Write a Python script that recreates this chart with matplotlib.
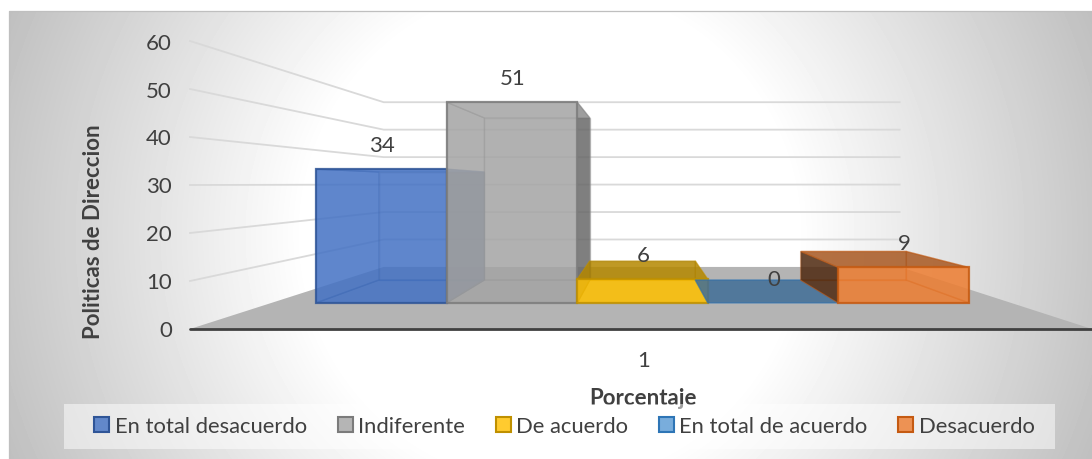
import numpy as np
import matplotlib
matplotlib.use('Agg')
import matplotlib.pyplot as plt
from matplotlib.patches import Patch, Polygon, Rectangle

# Datos
categorias = ['En total desacuerdo', 'Indiferente', 'De acuerdo', 'En total de acuerdo', 'Desacuerdo']
valores = [34, 51, 6, 0, 9]
colores = ['#4472C4', '#A5A5A5', '#FFC000', '#5B9BD5', '#ED7D31']
bordes = ['#2F5597', '#7B7B7B', '#BF9000', '#2E75B6', '#C55A11']
ticks_y = [0, 10, 20, 30, 40, 50, 60]

plt.rcParams['font.family'] = ['Lato', 'DejaVu Sans']
GRIS_TEXTO = '#404040'

W, H = 1092, 460
fig = plt.figure(figsize=(W / 100, H / 100), dpi=100)
ax = fig.add_axes([0, 0, 1, 1])
ax.axis('off')

# Fondo con degradado radial, dentro del marco del grafico
MARCO_X, MARCO_Y = 9, 12
xx, yy = np.meshgrid(np.arange(W) + 0.5, np.arange(H) + 0.5)
d = np.sqrt((xx - 550) ** 2 + (yy - 235) ** 2)
fondo = 1 - np.clip((d - 246) / 340, 0, 1) * 0.25
fondo[yy < MARCO_Y] = 1
fondo[xx < MARCO_X] = 1
ax.imshow(fondo, cmap='gray', vmin=0, vmax=1, extent=(0, W, H, 0), aspect='auto', zorder=0)
ax.set_xlim(0, W)
ax.set_ylim(H, 0)
ax.plot([MARCO_X, MARCO_X, W], [H, MARCO_Y, MARCO_Y], color='#BFBFBF', lw=0.9, zorder=1)

# Proyeccion en perspectiva del grafico 3D
VX, VY = 642.5, 185.0
SUELO_Y = 330.0
UNIDAD = 4.8
IZQ, DER = 190.0, 1092.0
S_FONDO, S_BAR_FRENTE, S_BAR_ATRAS = 0.572, 0.82, 0.662
BAR_ANCHO = 130.6 / 0.82
BAR_INICIO = VX - len(valores) * BAR_ANCHO / 2


def proy(x, v, s):
    return VX + (x - VX) * s, VY + (SUELO_Y - UNIDAD * v - VY) * s


# Piso
ax.add_patch(Polygon([proy(IZQ, 0, 1), proy(DER, 0, 1), proy(DER, 0, S_FONDO), proy(IZQ, 0, S_FONDO)],
                     fc='#B4B4B4', ec='none', zorder=1))

# Lineas de la grilla
for t in ticks_y[1:]:
    pts = [proy(IZQ, t, 1), proy(IZQ, t, S_FONDO), proy(DER, t, S_FONDO)]
    ax.plot([p[0] for p in pts], [p[1] for p in pts], color='#D9D9D9', lw=1.3, zorder=2)
ax.plot([IZQ, DER], [SUELO_Y, SUELO_Y], color='#404040', lw=2, zorder=3, solid_capstyle='round')

# Etiquetas del eje
for t in ticks_y:
    ax.text(172, proy(IZQ, t, 1)[1] + 1.5, str(t), ha='right', va='center', fontsize=16, color=GRIS_TEXTO)
ax.text(643.5, 361.5, '1', ha='center', va='center', fontsize=16, color=GRIS_TEXTO)
ax.text(643, 398.5, 'Porcentaje', ha='center', va='center', fontsize=16, fontweight='bold', color=GRIS_TEXTO)
ax.text(93, 232, 'Politicas de Direccion', ha='center', va='center', rotation=90, fontsize=16,
        fontweight='bold', color=GRIS_TEXTO)


def oscurecer(color, f):
    return tuple(c * f for c in matplotlib.colors.to_rgb(color))


# Barras: cada cara es semitransparente
z = 4
for i, v in enumerate(valores):
    x0 = BAR_INICIO + i * BAR_ANCHO
    x1 = x0 + BAR_ANCHO
    fa, ba = S_BAR_FRENTE, S_BAR_ATRAS
    atras = [proy(x0, 0, ba), proy(x1, 0, ba), proy(x1, v, ba), proy(x0, v, ba)]
    frente = [proy(x0, 0, fa), proy(x1, 0, fa), proy(x1, v, fa), proy(x0, v, fa)]
    abajo = [frente[0], frente[1], atras[1], atras[0]]
    arriba = [frente[3], frente[2], atras[2], atras[3]]
    izq = [frente[0], frente[3], atras[3], atras[0]]
    der = [frente[1], frente[2], atras[2], atras[1]]
    # las caras vistas desde afuera se ven mas oscuras
    f_izq = 0.08 if atras[0][0] < frente[0][0] else 1
    f_der = 0.5 if atras[1][0] > frente[1][0] else 1
    f_arr = 0.6 if atras[3][1] < frente[3][1] else 1
    caras = [(atras, 1), (abajo, 1), (izq, f_izq), (der, f_der), (arriba, f_arr)]
    if v == 0:
        caras = [(abajo, 1), (arriba, 0.6)]
    for poly, f in caras:
        ax.add_patch(Polygon(poly, fc=oscurecer(colores[i], f) + (0.62,), ec=bordes[i] + '60', lw=1, zorder=z))
    if v > 0:
        ax.add_patch(Polygon(frente, fc=matplotlib.colors.to_rgb(colores[i]) + (0.62,), ec=bordes[i] + 'D0',
                             lw=1.6, zorder=z))
    z += 1
    xm = (x0 + x1) / 2
    ax.annotate(str(v), proy(xm + 0.8, v, fa), xytext=(0, 24 * 0.72), textcoords='offset points', ha='center',
                va='center', fontsize=16, color=GRIS_TEXTO, zorder=20)

# Leyenda: el recuadro va aparte porque no esta centrado con el texto
ax.add_patch(Rectangle((64, 405), 991, 44.5, fc='white', ec='none', alpha=0.5, zorder=24))
handles = [Patch(fc=c + 'D0', ec=b, lw=1.5) for c, b in zip(colores, bordes)]
leg = ax.legend(handles, categorias, ncol=5, loc='center', bbox_to_anchor=(564.5 / W, 1 - 427 / H),
                bbox_transform=fig.transFigure, fontsize=15.8, frameon=False, handlelength=0.68, handleheight=0.68,
                handletextpad=0.25, columnspacing=1.4, borderpad=0, borderaxespad=0)
for t in leg.get_texts():
    t.set_color(GRIS_TEXTO)
leg.set_zorder(25)

fig.savefig('out.png', dpi=100)
